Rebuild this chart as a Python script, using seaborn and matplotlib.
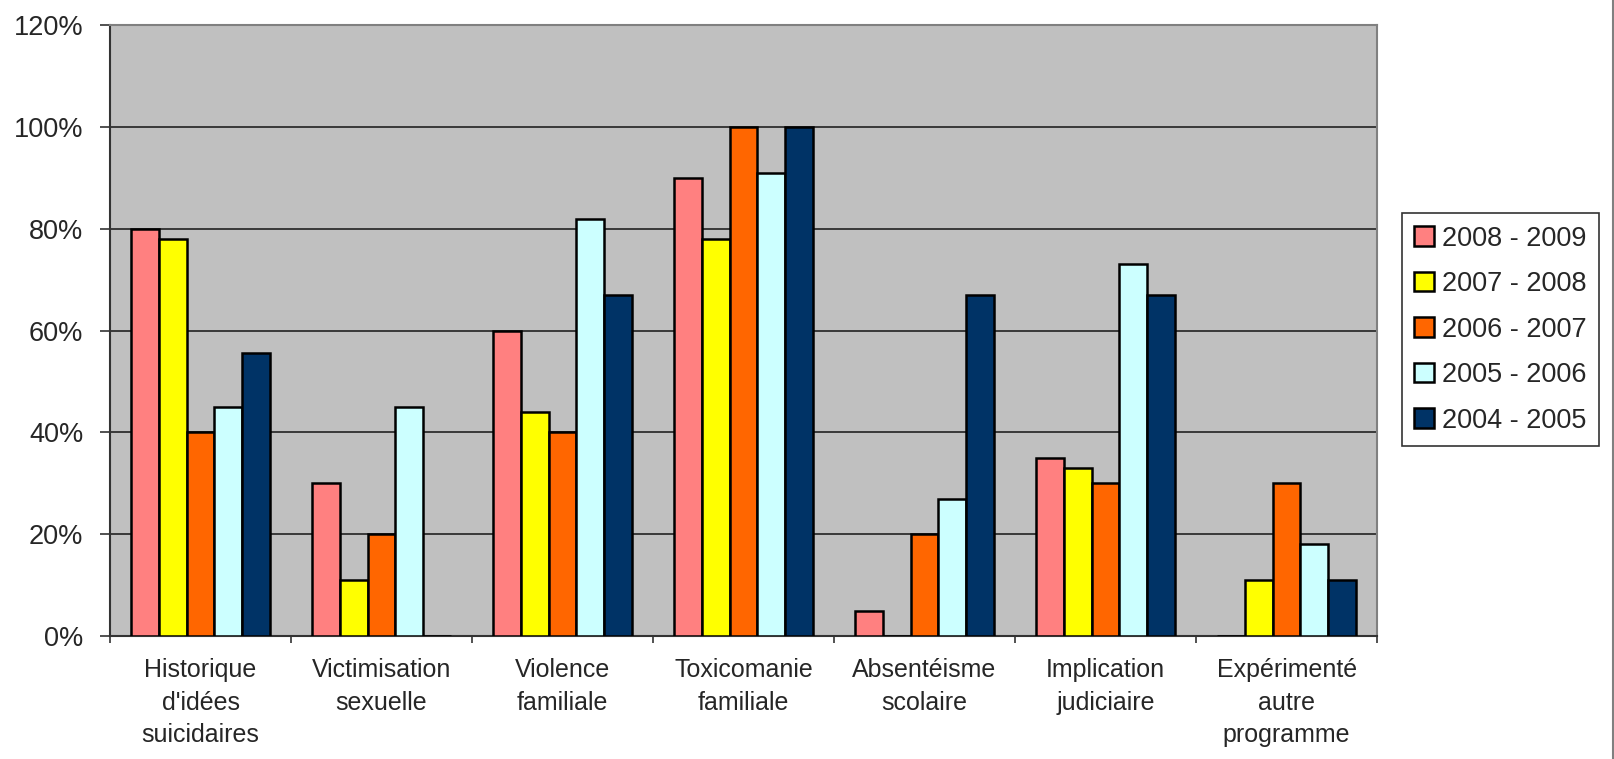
import pandas as pd
import numpy as np
import matplotlib.pyplot as plt
import seaborn as sns
from matplotlib.ticker import PercentFormatter
from matplotlib.lines import Line2D

# ------------------------- DONNEES -------------------------

categories = ["Historique\nd'idées\nsuicidaires", "Victimisation\nsexuelle", "Violence\nfamiliale",
              "Toxicomanie\nfamiliale", "Absentéisme\nscolaire", "Implication\njudiciaire",
              "Expérimenté\nautre\nprogramme"]
annees = ["2008 - 2009", "2007 - 2008", "2006 - 2007", "2005 - 2006", "2004 - 2005"]

v_2008_2009 = [80, 30, 60, 90, 5, 35, 0]
v_2007_2008 = [78, 11, 44, 78, 0, 33, 11]
v_2006_2007 = [40, 20, 40, 100, 20, 30, 30]
v_2005_2006 = [45, 45, 82, 91, 27, 73, 18]
v_2004_2005 = [55.5, 0, 67, 100, 67, 67, 11]

couleurs = ["#FF8080", "#FFFF00", "#FF6600", "#CCFFFF", "#003366"]

series = [v_2008_2009, v_2007_2008, v_2006_2007, v_2005_2006, v_2004_2005]
rows = []
for annee, vals in zip(annees, series):
    for cat, v in zip(categories, vals):
        rows.append({"Categorie": cat, "Annee": annee, "Valeur": v})
df = pd.DataFrame(rows)

# ------------------------- GRAPHIQUE -------------------------

sns.set_style("white")
plt.rcParams['font.family'] = ['Liberation Sans', 'DejaVu Sans']

fig = plt.figure(figsize=(16.14, 7.59), dpi=100)
ax = fig.add_axes([0.0682, 0.162, 0.785, 0.805])
ax.set_facecolor("#C0C0C0")

sns.barplot(data=df, x="Categorie", y="Valeur", hue="Annee", hue_order=annees,
            palette=couleurs, width=0.765, gap=0, edgecolor="black", linewidth=1.8,
            saturation=1, ax=ax, zorder=3)

ax.set_ylim(0, 120)
ax.set_xlim(-0.5, len(categories) - 0.5)
ax.yaxis.set_major_formatter(PercentFormatter(decimals=0))
ax.set_yticks(np.arange(0, 121, 20))
ax.grid(axis="y", color="#222222", linewidth=1.2, zorder=0)
ax.set_axisbelow(True)
ax.set_xlabel("")
ax.set_ylabel("")

# ticks majeurs entre les categories, etiquettes au centre
ax.set_xticks(np.arange(-0.5, len(categories), 1), minor=False)
ax.set_xticklabels([])
ax.set_xticks(np.arange(len(categories)), minor=True)
ax.set_xticklabels(categories, minor=True, fontsize=18, linespacing=1.44)
ax.tick_params(axis="x", which="major", length=5, width=1.2, color="#333333", direction="out")
ax.tick_params(axis="x", which="minor", length=0, pad=16)
ax.tick_params(axis="y", length=7.2, width=1.2, color="#333333", direction="out", labelsize=19.5, pad=12)
ax.tick_params(axis="both", bottom=True, left=True)

for side in ["left", "bottom"]:
    ax.spines[side].set_color("#333333")
    ax.spines[side].set_linewidth(1.5)
for side in ["top", "right"]:
    ax.spines[side].set_color("#808080")
    ax.spines[side].set_linewidth(1.5)

handles, labels = ax.get_legend_handles_labels()
leg = ax.legend(handles, labels, loc="center left", bbox_to_anchor=(1.0197, 0.5016),
                fontsize=19.5, frameon=True, fancybox=False, edgecolor="black",
                handlelength=0.72, handleheight=0.72, handletextpad=0.3,
                labelspacing=0.72, borderpad=0.45, borderaxespad=0)
leg.get_frame().set_linewidth(1.2)

# bord droit de la zone du graphique
fig.add_artist(Line2D([0.9994, 0.9994], [0, 1], color="#808080", linewidth=1.5))

fig.savefig("out.png", dpi=100)
